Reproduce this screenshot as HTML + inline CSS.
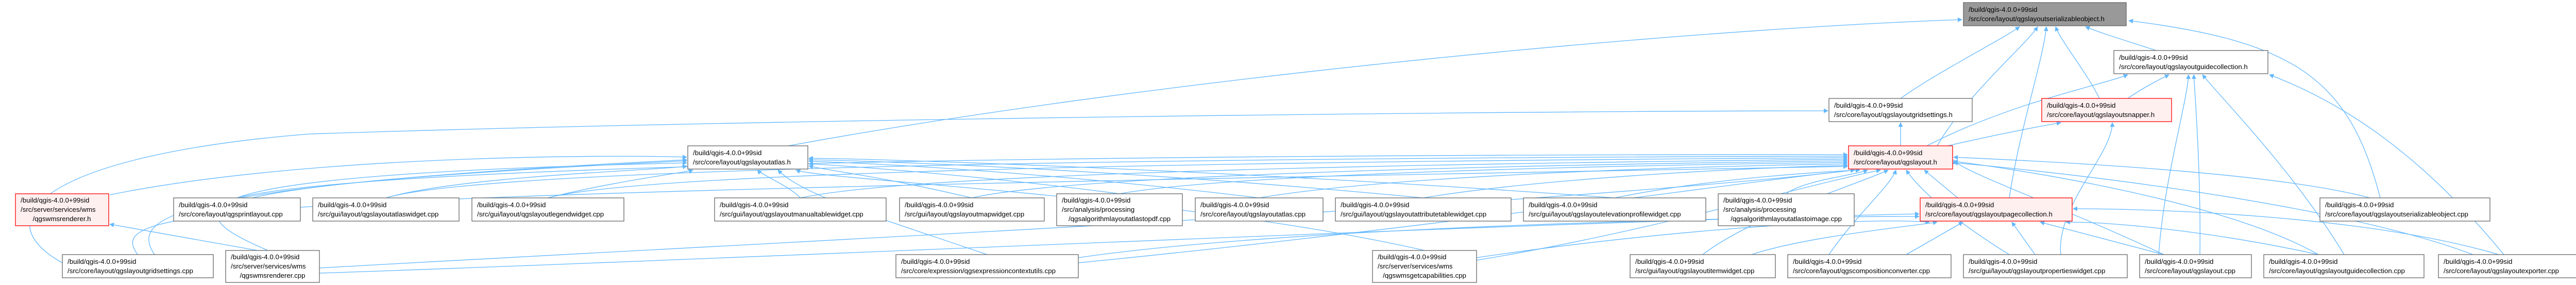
<!DOCTYPE html>
<html><head><meta charset="utf-8"><style>
html,body{margin:0;padding:0;background:#fff;width:5010px;height:553px;overflow:hidden}
svg{display:block}
text{font-family:"Liberation Sans",sans-serif;font-size:13.3px;fill:#000}
.n{fill:#fff;stroke:#666;stroke-width:1.3}
.r{fill:#fff0f0;stroke:#f00;stroke-width:1.3}
.g{fill:#999;stroke:#666;stroke-width:1.3}
.e{fill:none;stroke:#63b8ff;stroke-width:1.3;marker-end:url(#ah)}
</style></head><body>
<svg width="5010" height="553" viewBox="0 0 5010 553" xmlns="http://www.w3.org/2000/svg">
<defs><marker id="ah" viewBox="0 0 10 10" refX="9" refY="5" markerWidth="9" markerHeight="9" markerUnits="userSpaceOnUse" orient="auto"><path d="M0,0 L10,5 L0,10 z" fill="#63b8ff"/></marker></defs>
<g>
<!-- to S -->
<path class="e" d="M1530,283 C2200,160 3200,60 3808,38"/>
<path class="e" d="M3689,191 C3760,140 3880,80 3920,52"/>
<path class="e" d="M3760,283 C3820,180 3930,90 3955,52"/>
<path class="e" d="M4075,191 C4050,140 4000,80 3990,52"/>
<path class="e" d="M4185,98 C4130,80 4080,65 4048,52"/>
<path class="e" d="M3900,384 C3920,250 3965,120 3972,52"/>
<path class="e" d="M4620,384 C4560,150 4450,80 4132,40"/>
<!-- to G -->
<path class="e" d="M4130,191 C4160,170 4190,155 4210,145"/>
<path class="e" d="M3740,283 C3900,200 4080,165 4130,145"/>
<path class="e" d="M4190,494 C4200,350 4245,200 4248,145"/>
<path class="e" d="M4270,494 C4272,350 4262,200 4258,145"/>
<path class="e" d="M4550,494 C4450,330 4320,200 4275,145"/>
<path class="e" d="M4860,494 C4700,300 4550,200 4405,145"/>
<!-- to GS, SN -->
<path class="e" d="M3689,283 L3689,238"/>
<path class="e" d="M3780,283 C3880,260 3960,245 4000,238"/>
<path class="e" d="M4000,494 C3990,400 4100,300 4100,238"/>
<path class="e" d="M121,510 C-40,420 100,300 600,260 C1500,230 3000,215 3548,215"/>
<!-- to W -->
<path class="e" d="M500,486 L213,435"/>
<path class="e" d="M213,378 C600,300 1200,300 1333,305"/>
<!-- to A -->
<path class="e" d="M460,384 C600,330 1200,320 1333,316"/>
<path class="e" d="M749,384 C900,340 1300,330 1333,322"/>
<path class="e" d="M1063,384 C1200,350 1330,335 1345,330"/>
<path class="e" d="M1554,384 C1530,360 1480,340 1470,330"/>
<path class="e" d="M300,494 C250,420 330,360 1333,310"/>
<path class="e" d="M520,486 C320,400 360,360 1333,312"/>
<path class="e" d="M1886,384 C1700,340 1600,330 1570,322"/>
<path class="e" d="M2173,376 C1900,340 1620,320 1570,318"/>
<path class="e" d="M2444,384 C2000,330 1650,315 1570,313"/>
<path class="e" d="M2762,384 C2200,330 1700,312 1570,310"/>
<path class="e" d="M3134,384 C2400,330 1700,308 1570,307"/>
<path class="e" d="M1916,494 C1700,420 1560,380 1510,330"/>
<path class="e" d="M2765,486 C2300,380 1600,350 1545,330"/>
<!-- to L -->
<path class="e" d="M460,384 C800,300 3000,300 3586,300"/>
<path class="e" d="M749,384 C1000,310 3000,305 3586,303"/>
<path class="e" d="M1063,384 C1300,320 3000,310 3586,306"/>
<path class="e" d="M1554,384 C1800,330 3000,315 3586,309"/>
<path class="e" d="M1886,384 C2100,335 3100,318 3586,312"/>
<path class="e" d="M2173,376 C2400,335 3200,320 3586,315"/>
<path class="e" d="M2444,384 C2700,340 3300,322 3586,318"/>
<path class="e" d="M2762,384 C3000,345 3400,325 3586,321"/>
<path class="e" d="M3134,384 C3300,350 3500,335 3610,330"/>
<path class="e" d="M3467,376 C3500,350 3600,340 3625,330"/>
<path class="e" d="M3800,384 L3735,330"/>
<path class="e" d="M4600,384 C4400,330 3900,310 3792,305"/>
<path class="e" d="M267,494 C200,400 400,380 3586,323"/>
<path class="e" d="M2093,510 C2800,440 3400,350 3600,330"/>
<path class="e" d="M2866,505 C3200,450 3500,360 3650,330"/>
<path class="e" d="M3305,494 C3400,420 3600,360 3665,330"/>
<path class="e" d="M3550,494 C3600,420 3670,360 3680,330"/>
<path class="e" d="M3900,494 C3780,420 3720,360 3700,330"/>
<path class="e" d="M4200,494 C4000,400 3800,330 3792,310"/>
<path class="e" d="M4500,494 C4300,380 3850,320 3792,313"/>
<path class="e" d="M4800,494 C4500,380 3850,320 3792,316"/>
<path class="e" d="M620,520 C1500,470 3000,400 3600,330"/>
<!-- to P -->
<path class="e" d="M2093,500 C2500,440 3400,420 3725,420"/>
<path class="e" d="M2866,500 C3200,450 3600,420 3745,431"/>
<path class="e" d="M3400,494 C3500,460 3700,440 3760,431"/>
<path class="e" d="M3700,494 L3810,431"/>
<path class="e" d="M3950,494 L3905,431"/>
<path class="e" d="M4200,494 L3960,431"/>
<path class="e" d="M4500,494 C4300,450 4100,430 4010,431"/>
<path class="e" d="M4850,494 C4600,420 4200,405 4024,405"/>
<path class="e" d="M620,530 C1500,500 3000,430 3725,415"/>
</g>
<g>
<rect class="g" x="3811" y="5" width="316" height="45"/><text x="3821" y="23">/build/qgis-4.0.0+99sid</text><text x="3821" y="41">/src/core/layout/qgslayoutserializableobject.h</text>
<rect class="n" x="4103" y="98" width="299" height="45"/><text x="4113" y="116">/build/qgis-4.0.0+99sid</text><text x="4113" y="134">/src/core/layout/qgslayoutguidecollection.h</text>
<rect class="n" x="3550" y="191" width="278" height="45"/><text x="3560" y="209">/build/qgis-4.0.0+99sid</text><text x="3560" y="227">/src/core/layout/qgslayoutgridsettings.h</text>
<rect class="r" x="3963" y="191" width="252" height="45"/><text x="3973" y="209">/build/qgis-4.0.0+99sid</text><text x="3973" y="227">/src/core/layout/qgslayoutsnapper.h</text>
<rect class="n" x="1335" y="283" width="233" height="45"/><text x="1345" y="301">/build/qgis-4.0.0+99sid</text><text x="1345" y="319">/src/core/layout/qgslayoutatlas.h</text>
<rect class="r" x="3588" y="283" width="202" height="45"/><text x="3598" y="301">/build/qgis-4.0.0+99sid</text><text x="3598" y="319">/src/core/layout/qgslayout.h</text>

<rect class="r" x="30" y="376" width="181" height="62"/><text x="40" y="393">/build/qgis-4.0.0+99sid</text><text x="40" y="411">/src/server/services/wms</text><text x="120" y="429" text-anchor="middle">/qgswmsrenderer.h</text>
<rect class="n" x="337" y="384" width="246" height="45"/><text x="347" y="402">/build/qgis-4.0.0+99sid</text><text x="347" y="420">/src/core/layout/qgsprintlayout.cpp</text>
<rect class="n" x="607" y="384" width="284" height="45"/><text x="617" y="402">/build/qgis-4.0.0+99sid</text><text x="617" y="420">/src/gui/layout/qgslayoutatlaswidget.cpp</text>
<rect class="n" x="916" y="384" width="295" height="45"/><text x="926" y="402">/build/qgis-4.0.0+99sid</text><text x="926" y="420">/src/gui/layout/qgslayoutlegendwidget.cpp</text>
<rect class="n" x="1387" y="384" width="333" height="45"/><text x="1397" y="402">/build/qgis-4.0.0+99sid</text><text x="1397" y="420">/src/gui/layout/qgslayoutmanualtablewidget.cpp</text>
<rect class="n" x="1746" y="384" width="281" height="45"/><text x="1756" y="402">/build/qgis-4.0.0+99sid</text><text x="1756" y="420">/src/gui/layout/qgslayoutmapwidget.cpp</text>
<rect class="n" x="2051" y="376" width="244" height="62"/><text x="2061" y="393">/build/qgis-4.0.0+99sid</text><text x="2061" y="411">/src/analysis/processing</text><text x="2173" y="429" text-anchor="middle">/qgsalgorithmlayoutatlastopdf.cpp</text>
<rect class="n" x="2320" y="384" width="248" height="45"/><text x="2330" y="402">/build/qgis-4.0.0+99sid</text><text x="2330" y="420">/src/core/layout/qgslayoutatlas.cpp</text>
<rect class="n" x="2592" y="384" width="341" height="45"/><text x="2602" y="402">/build/qgis-4.0.0+99sid</text><text x="2602" y="420">/src/gui/layout/qgslayoutattributetablewidget.cpp</text>
<rect class="n" x="2957" y="384" width="354" height="45"/><text x="2967" y="402">/build/qgis-4.0.0+99sid</text><text x="2967" y="420">/src/gui/layout/qgslayoutelevationprofilewidget.cpp</text>
<rect class="n" x="3335" y="376" width="264" height="62"/><text x="3345" y="393">/build/qgis-4.0.0+99sid</text><text x="3345" y="411">/src/analysis/processing</text><text x="3467" y="429" text-anchor="middle">/qgsalgorithmlayoutatlastoimage.cpp</text>
<rect class="r" x="3727" y="384" width="295" height="45"/><text x="3737" y="402">/build/qgis-4.0.0+99sid</text><text x="3737" y="420">/src/core/layout/qgslayoutpagecollection.h</text>
<rect class="n" x="4503" y="384" width="330" height="45"/><text x="4513" y="402">/build/qgis-4.0.0+99sid</text><text x="4513" y="420">/src/core/layout/qgslayoutserializableobject.cpp</text>

<rect class="n" x="121" y="494" width="293" height="45"/><text x="131" y="512">/build/qgis-4.0.0+99sid</text><text x="131" y="530">/src/core/layout/qgslayoutgridsettings.cpp</text>
<rect class="n" x="438" y="486" width="182" height="62"/><text x="448" y="503">/build/qgis-4.0.0+99sid</text><text x="448" y="521">/src/server/services/wms</text><text x="529" y="539" text-anchor="middle">/qgswmsrenderer.cpp</text>
<rect class="n" x="1739" y="494" width="354" height="45"/><text x="1749" y="512">/build/qgis-4.0.0+99sid</text><text x="1749" y="530">/src/core/expression/qgsexpressioncontextutils.cpp</text>
<rect class="n" x="2664" y="486" width="202" height="62"/><text x="2674" y="503">/build/qgis-4.0.0+99sid</text><text x="2674" y="521">/src/server/services/wms</text><text x="2765" y="539" text-anchor="middle">/qgswmsgetcapabilities.cpp</text>
<rect class="n" x="3164" y="494" width="282" height="45"/><text x="3174" y="512">/build/qgis-4.0.0+99sid</text><text x="3174" y="530">/src/gui/layout/qgslayoutitemwidget.cpp</text>
<rect class="n" x="3470" y="494" width="317" height="45"/><text x="3480" y="512">/build/qgis-4.0.0+99sid</text><text x="3480" y="530">/src/core/layout/qgscompositionconverter.cpp</text>
<rect class="n" x="3811" y="494" width="318" height="45"/><text x="3821" y="512">/build/qgis-4.0.0+99sid</text><text x="3821" y="530">/src/gui/layout/qgslayoutpropertieswidget.cpp</text>
<rect class="n" x="4153" y="494" width="217" height="45"/><text x="4163" y="512">/build/qgis-4.0.0+99sid</text><text x="4163" y="530">/src/core/layout/qgslayout.cpp</text>
<rect class="n" x="4394" y="494" width="311" height="45"/><text x="4404" y="512">/build/qgis-4.0.0+99sid</text><text x="4404" y="530">/src/core/layout/qgslayoutguidecollection.cpp</text>
<rect class="n" x="4733" y="494" width="270" height="45"/><text x="4743" y="512">/build/qgis-4.0.0+99sid</text><text x="4743" y="530">/src/core/layout/qgslayoutexporter.cpp</text>
</g>
</svg>
</body></html>
